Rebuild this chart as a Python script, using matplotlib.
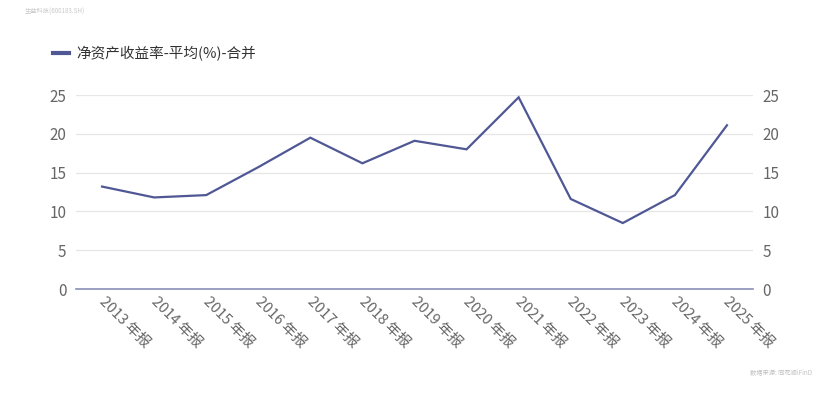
import matplotlib
matplotlib.use('Agg')
import matplotlib.pyplot as plt
from matplotlib.lines import Line2D

plt.rcParams['font.family'] = ['Noto Sans CJK SC', 'DejaVu Sans']

# data
years = ['2013 年报', '2014 年报', '2015 年报', '2016 年报', '2017 年报', '2018 年报', '2019 年报',
         '2020 年报', '2021 年报', '2022 年报', '2023 年报', '2024 年报', '2025 年报']
roe = [13.2, 11.8, 12.1, 15.7, 19.5, 16.2, 19.1, 18.0, 24.7, 11.6, 8.5, 12.1, 21.1]
y_ticks = [0, 5, 10, 15, 20, 25]
series_name = '净资产收益率-平均(%)-合并'

line_color = '#4f5894'
tick_color = '#666666'

fig = plt.figure(figsize=(8.3, 4.2), dpi=100)
ax = fig.add_axes([76 / 830, 1 - 289 / 420, (753 - 76) / 830, (289 - 95) / 420])

x = list(range(len(years)))
ax.plot(x, roe, color=line_color, linewidth=1.6, solid_joinstyle='miter')

ax.set_xlim(-0.5, len(years) - 0.5)
ax.set_ylim(0, 25)
ax.set_yticks(y_ticks)
ax.set_xticks(x)
ax.set_xticklabels(years, rotation=-45, ha='left', va='top', rotation_mode='anchor')

ax.grid(axis='y', color='#e6e6e6', linewidth=0.9)
ax.set_axisbelow(True)
for side in ['top', 'left', 'right']:
    ax.spines[side].set_visible(False)
ax.spines['bottom'].set_color('#8a90b8')
ax.spines['bottom'].set_linewidth(1.2)

ax.tick_params(axis='x', length=0, pad=4, labelsize=10.5, colors=tick_color)
ax.tick_params(axis='y', length=0, pad=7, labelsize=11, colors=tick_color,
               labelright=True, labelleft=True)
# nudge rotated labels slightly right so they start right under the tick
for lbl in ax.get_xticklabels():
    lbl.set_x(lbl.get_position()[0])
    lbl.set_transform(lbl.get_transform() + matplotlib.transforms.ScaledTranslation(4 / 100, 0, fig.dpi_scale_trans))

# legend at top left
leg_handle = Line2D([0], [0], color=line_color, linewidth=3)
fig.legend([leg_handle], [series_name], loc='upper left', bbox_to_anchor=(40 / 830, 1 - 33 / 420),
           frameon=False, fontsize=10.5, handlelength=1.1, handletextpad=0.5, labelcolor='#333333')

# watermark / source text
fig.text(25 / 830, 1 - 12 / 420, '生益科技(600183.SH)', fontsize=4.5, color='#c8c8c8', va='center')
fig.text(812 / 830, 1 - 372 / 420, '数据来源: 同花顺iFinD', fontsize=4.5, color='#c0c0c0',
         va='center', ha='right')

fig.savefig('out.png', dpi=100)
